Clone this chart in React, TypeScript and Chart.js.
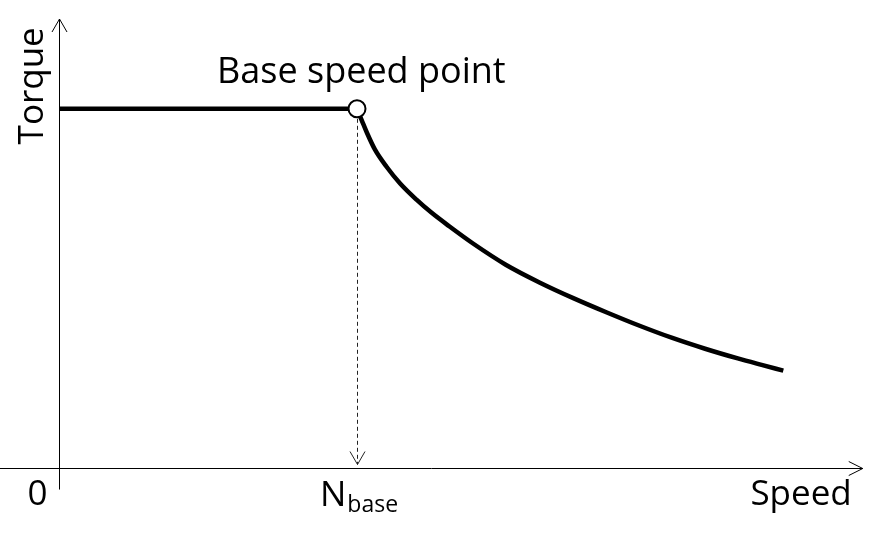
import React, { useEffect, useRef } from "react";
import { Chart, registerables } from "chart.js";

Chart.register(...registerables);

// Normalized units: speed relative to N_base, torque relative to rated torque
const flatSpeed = [0, 1];
const flatTorque = [1, 1];
const curveSpeed = [1.0, 1.016, 1.033, 1.06, 1.1, 1.145, 1.2, 1.25, 1.31, 1.39, 1.5, 1.615, 1.727, 1.84, 1.95, 2.06, 2.17, 2.28, 2.36, 2.433];
const curveTorque = [1.0, 0.968, 0.934, 0.887, 0.838, 0.792, 0.747, 0.711, 0.673, 0.625, 0.566, 0.516, 0.473, 0.433, 0.396, 0.362, 0.332, 0.305, 0.287, 0.271];
const baseSpeed = [1];
const baseTorque = [1];

const xLabel = "Speed";
const yLabel = "Torque";
const originLabel = "0";
const baseLabelMain = "N";
const baseLabelSub = "base";
const pointLabel = "Base speed point";

const X_MIN = -0.2;
const X_MAX = 2.7311;
const Y_MIN = -0.2116;
const Y_MAX = 1.3029;
const X_AXIS_END = 2.7;
const Y_AXIS_END = 1.25;
const Y_AXIS_START = -0.06;

const FONT = '"Open Sans", "DejaVu Sans", sans-serif';

const axesPlugin = {
  id: "axesPlugin",
  beforeDatasetsDraw(chart: any) {
    const { ctx, scales } = chart;
    const xs = scales.x;
    const ys = scales.y;
    const x0 = Math.round(xs.getPixelForValue(0)) + 0.5;
    const y0 = Math.round(ys.getPixelForValue(0)) + 0.5;
    ctx.save();
    ctx.strokeStyle = "#000";
    ctx.lineWidth = 1;
    // x axis
    const xEnd = xs.getPixelForValue(X_AXIS_END);
    ctx.beginPath();
    ctx.moveTo(xs.getPixelForValue(X_MIN), y0);
    ctx.lineTo(xEnd, y0);
    ctx.moveTo(xEnd - 14, y0 - 7);
    ctx.lineTo(xEnd, y0);
    ctx.lineTo(xEnd - 14, y0 + 7);
    ctx.stroke();
    // y axis
    const yEnd = ys.getPixelForValue(Y_AXIS_END);
    ctx.beginPath();
    ctx.moveTo(x0, ys.getPixelForValue(Y_AXIS_START));
    ctx.lineTo(x0, yEnd);
    ctx.moveTo(x0 - 7.5, yEnd + 13);
    ctx.lineTo(x0, yEnd);
    ctx.lineTo(x0 + 7.5, yEnd + 13);
    ctx.stroke();
    // dashed drop line
    const bx = Math.round(xs.getPixelForValue(baseSpeed[0])) + 0.5;
    const by = ys.getPixelForValue(baseTorque[0]);
    const tipY = y0 - 4;
    ctx.strokeStyle = "#222";
    ctx.setLineDash([4, 3]);
    ctx.beginPath();
    ctx.moveTo(bx, by + 10);
    ctx.lineTo(bx, tipY);
    ctx.stroke();
    ctx.setLineDash([]);
    ctx.beginPath();
    ctx.moveTo(bx - 7.5, tipY - 13);
    ctx.lineTo(bx, tipY);
    ctx.lineTo(bx + 7.5, tipY - 13);
    ctx.stroke();
    ctx.restore();
  },
  afterDraw(chart: any) {
    const { ctx, scales } = chart;
    const xs = scales.x;
    const ys = scales.y;
    const x0 = xs.getPixelForValue(0);
    const y0 = ys.getPixelForValue(0);
    const bx = xs.getPixelForValue(baseSpeed[0]);
    const by = ys.getPixelForValue(baseTorque[0]);
    ctx.save();
    ctx.fillStyle = "#000";
    ctx.textBaseline = "alphabetic";
    // point label
    ctx.font = `36px ${FONT}`;
    ctx.textAlign = "left";
    ctx.fillText(pointLabel, bx - 140, by - 26);
    ctx.font = `35px ${FONT}`;
    // origin
    ctx.textAlign = "center";
    ctx.fillText(originLabel, x0 - 22, y0 + 37);
    // speed label
    ctx.textAlign = "right";
    ctx.fillText(xLabel, xs.getPixelForValue(X_AXIS_END) - 11, y0 + 37);
    // N base
    ctx.textAlign = "left";
    ctx.fillText(baseLabelMain, bx - 37, y0 + 38);
    const nW = ctx.measureText(baseLabelMain).width;
    ctx.font = `23px ${FONT}`;
    ctx.fillText(baseLabelSub, bx - 37 + nW + 1, y0 + 44);
    // torque label
    ctx.font = `35px ${FONT}`;
    ctx.translate(x0 - 16, ys.getPixelForValue(1.064));
    ctx.rotate(-Math.PI / 2);
    ctx.textAlign = "center";
    ctx.fillText(yLabel, 0, 0);
    ctx.restore();
  },
};

export default function App() {
  const canvasRef = useRef<HTMLCanvasElement | null>(null);

  useEffect(() => {
    const canvas = canvasRef.current;
    if (!canvas) return;
    const chart = new Chart(canvas, {
      type: "line",
      data: {
        datasets: [
          {
            label: "base",
            data: baseSpeed.map((x, i) => ({ x, y: baseTorque[i] })),
            showLine: false,
            pointRadius: 8.5,
            pointBorderWidth: 2,
            pointBackgroundColor: "#fff",
            pointBorderColor: "#000",
            order: 0,
          },
          {
            label: "flat",
            data: flatSpeed.map((x, i) => ({ x, y: flatTorque[i] })),
            borderColor: "#000",
            borderWidth: 4.5,
            pointRadius: 0,
            order: 2,
          },
          {
            label: "curve",
            data: curveSpeed.map((x, i) => ({ x, y: curveTorque[i] })),
            borderColor: "#000",
            borderWidth: 4.5,
            pointRadius: 0,
            cubicInterpolationMode: "monotone",
            order: 1,
          },
        ],
      },
      options: {
        responsive: false,
        animation: false,
        devicePixelRatio: 1,
        layout: { padding: 0, autoPadding: false },
        plugins: { legend: { display: false }, tooltip: { enabled: false } },
        scales: {
          x: { type: "linear", display: false, min: X_MIN, max: X_MAX },
          y: { type: "linear", display: false, min: Y_MIN, max: Y_MAX },
        },
      },
      plugins: [axesPlugin],
    });
    return () => chart.destroy();
  }, []);

  return (
    <div style={{ position: "fixed", left: 0, top: 0, width: 872, height: 544, background: "#fff" }}>
      <canvas ref={canvasRef} width={872} height={544} />
    </div>
  );
}
